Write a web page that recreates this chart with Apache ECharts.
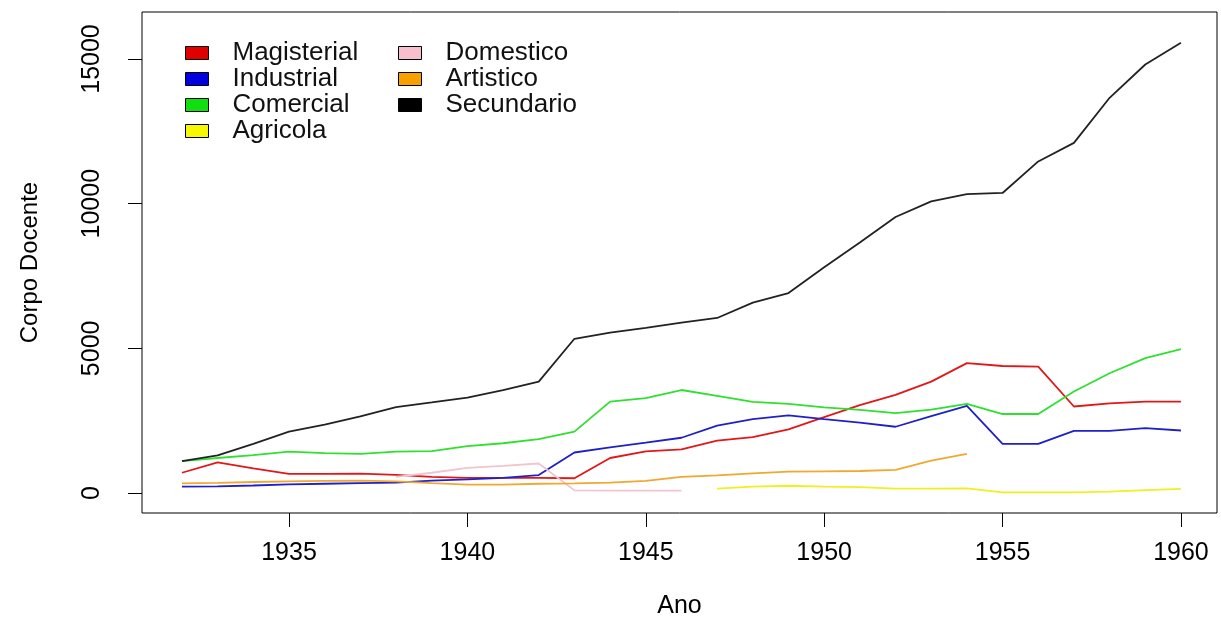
<!DOCTYPE html>
<html>
<head>
<meta charset="utf-8">
<script src="https://cdn.jsdelivr.net/npm/echarts@6/dist/echarts.min.js"></script>
<style>
html,body{margin:0;padding:0;background:#fff;}
#chart{width:1221px;height:618px;}
</style>
</head>
<body>
<div id="chart"></div>
<script>
const years = [1932,1933,1934,1935,1936,1937,1938,1939,1940,1941,1942,1943,1944,1945,1946,1947,1948,1949,1950,1951,1952,1953,1954,1955,1956,1957,1958,1959,1960];
const magisterial = [700,1060,850,660,660,670,630,560,520,520,520,510,1210,1440,1510,1810,1930,2200,2620,3040,3390,3850,4490,4390,4370,2990,3100,3160,3160];
const industrial = [220,230,260,300,320,340,360,430,470,520,620,1400,1580,1740,1910,2330,2550,2680,2550,2430,2290,2660,3010,1700,1700,2150,2150,2240,2160];
const comercial = [1100,1210,1310,1430,1380,1350,1430,1450,1620,1720,1860,2120,3160,3280,3560,3360,3150,3080,2960,2870,2760,2880,3080,2730,2730,3510,4140,4660,4970];
const agricola = [null,null,null,null,null,null,null,null,null,null,null,null,null,null,null,150,220,250,220,200,150,150,160,20,20,20,50,100,140];
const domestico = [null,null,null,null,null,null,560,700,870,940,1020,90,80,80,80,null,null,null,null,null,null,null,null,null,null,null,null,null,null];
const artistico = [330,350,380,400,420,430,400,340,290,290,320,330,360,420,560,610,680,740,750,760,800,1120,1350,null,null,null,null,null,null];
const secundario = [1100,1300,1700,2120,2360,2650,2970,3130,3300,3560,3850,5330,5540,5710,5890,6050,6580,6910,7800,8660,9540,10080,10330,10370,11460,12100,13660,14810,15560];

const xTicks = [1935,1940,1945,1950,1955,1960];
const yTicks = [0,5000,10000,15000];

const seriesDefs = [
  {name:'Magisterial', data:magisterial, color:'#e01818', legend:'#e00000'},
  {name:'Industrial', data:industrial, color:'#2020c8', legend:'#0000e0'},
  {name:'Comercial', data:comercial, color:'#30e030', legend:'#10e010'},
  {name:'Agricola', data:agricola, color:'#f0f020', legend:'#f8f800'},
  {name:'Domestico', data:domestico, color:'#f0c4d0', legend:'#f8c0cc'},
  {name:'Artistico', data:artistico, color:'#f0a830', legend:'#f8a000'},
  {name:'Secundario', data:secundario, color:'#222222', legend:'#000000'}
];

const FONT = 'Liberation Sans, Arial, sans-serif';
const chart = echarts.init(document.getElementById('chart'), null, {renderer:'canvas'});

const series = seriesDefs.map(s => ({
  name: s.name,
  type: 'line',
  data: years.map((y,i) => [y, s.data[i]]),
  showSymbol: false,
  symbol: 'none',
  connectNulls: false,
  color: s.legend,
  lineStyle: {color: s.color, width: 1.8},
  itemStyle: {color: s.legend},
  silent: true,
  animation: false
}));

const legendBase = {
  orient: 'vertical',
  icon: 'rect',
  itemWidth: 23,
  itemHeight: 13,
  itemGap: 0,
  padding: 0,
  selectedMode: false,
  itemStyle: {borderColor: '#000', borderWidth: 1},
  textStyle: {fontFamily: FONT, fontSize: 26, color: '#111', lineHeight: 26, padding: [0,0,0,19]}
};

chart.setOption({
  backgroundColor: '#fff',
  animation: false,
  grid: {left: 142, right: 4, top: 12, bottom: 105, show: true, borderColor: '#000', borderWidth: 1, backgroundColor: '#fff', outerBoundsMode: 'none', containLabel: false},
  legend: [
    Object.assign({}, legendBase, {left: 185, top: 40, data: ['Magisterial','Industrial','Comercial','Agricola']}),
    Object.assign({}, legendBase, {left: 398, top: 40, data: ['Domestico','Artistico','Secundario']})
  ],
  xAxis: {
    type: 'value',
    min: 1930.88,
    max: 1961.01,
    name: 'Ano',
    nameLocation: 'middle',
    nameGap: 81,
    nameTextStyle: {fontFamily: FONT, fontSize: 25, color: '#000'},
    axisLine: {show: false, onZero: false},
    splitLine: {show: false},
    axisTick: {show: true, length: 14, customValues: xTicks, lineStyle: {color: '#000', width: 1}},
    axisLabel: {customValues: xTicks, fontFamily: FONT, fontSize: 25, color: '#000', margin: 28, formatter: v => String(v)}
  },
  yAxis: {
    type: 'value',
    min: -691,
    max: 16625,
    name: 'Corpo Docente',
    nameLocation: 'middle',
    nameGap: 100,
    nameTextStyle: {fontFamily: FONT, fontSize: 24, color: '#000'},
    axisLine: {show: false, onZero: false},
    splitLine: {show: false},
    axisTick: {show: true, length: 14, customValues: yTicks, lineStyle: {color: '#000', width: 1}},
    axisLabel: {customValues: yTicks, rotate: 90, fontFamily: FONT, fontSize: 25, color: '#000', margin: 37, formatter: v => String(v)}
  },
  series: series
});
</script>
</body>
</html>
